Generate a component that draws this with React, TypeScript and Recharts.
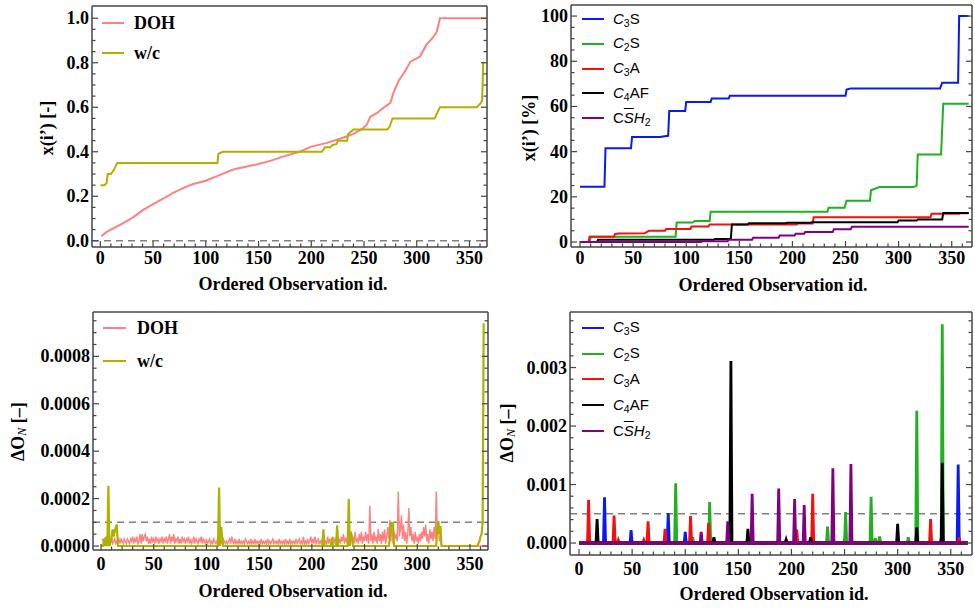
import React from "react";
import { LineChart, Line, XAxis, YAxis, ReferenceLine, Legend, Label } from "recharts";

const SERIF = "'Liberation Serif', 'Times New Roman', serif";
const SANS = "'Liberation Sans', Arial, sans-serif";
const FRAME = "#444";
const DASH = "#808080";

// x axis (ordered observation id)
const OBS_TICKS = [0, 10, 20, 30, 40, 50, 60, 70, 80, 90, 100, 110, 120, 130, 140, 150, 160, 170, 180, 190, 200, 210, 220, 230, 240, 250, 260, 270, 280, 290, 300, 310, 320, 330, 340, 350, 360];
const OBS_MAJOR = [0, 50, 100, 150, 200, 250, 300, 350];

// y ticks per panel
const FRAC_TICKS = [0, 0.05, 0.1, 0.15, 0.2, 0.25, 0.3, 0.35, 0.4, 0.45, 0.5, 0.55, 0.6, 0.65, 0.7, 0.75, 0.8, 0.85, 0.9, 0.95, 1.0];
const FRAC_MAJOR = [0, 0.2, 0.4, 0.6, 0.8, 1.0];
const PCT_TICKS = [0, 5, 10, 15, 20, 25, 30, 35, 40, 45, 50, 55, 60, 65, 70, 75, 80, 85, 90, 95, 100];
const PCT_MAJOR = [0, 20, 40, 60, 80, 100];
const DL_TICKS = [0, 0.00005, 0.0001, 0.00015, 0.0002, 0.00025, 0.0003, 0.00035, 0.0004, 0.00045, 0.0005, 0.00055, 0.0006, 0.00065, 0.0007, 0.00075, 0.0008, 0.00085, 0.0009, 0.00095];
const DL_MAJOR = [0, 0.0002, 0.0004, 0.0006, 0.0008];
const DR_TICKS = [0, 0.0002, 0.0004, 0.0006, 0.0008, 0.001, 0.0012, 0.0014, 0.0016, 0.0018, 0.002, 0.0022, 0.0024, 0.0026, 0.0028, 0.003, 0.0032, 0.0034, 0.0036, 0.0038];
const DR_MAJOR = [0, 0.001, 0.002, 0.003];

// top-left: cumulative x(i') for DOH and w/c
const DOH_CUM: [number, number][] = [
  [1, 0.02], [6, 0.04], [20, 0.075], [31, 0.105], [41, 0.14], [50, 0.165], [60, 0.19], [69, 0.215],
  [80, 0.24], [88, 0.255], [100, 0.27], [113, 0.295], [126, 0.32], [140, 0.335], [150, 0.345],
  [162, 0.36], [173, 0.378], [189, 0.4], [200, 0.423], [215, 0.44], [230, 0.463], [240, 0.48],
  [249, 0.505], [253, 0.525], [256, 0.558], [262, 0.573], [270, 0.603], [275, 0.62], [278, 0.666],
  [283, 0.72], [289, 0.763], [294, 0.805], [303, 0.827], [309, 0.88], [316, 0.917], [319, 0.94],
  [322, 1.0], [366, 1.0],
];
const WC_CUM: [number, number][] = [
  [0, 0.25], [4, 0.25], [6, 0.26], [7, 0.3], [10, 0.3], [13, 0.32], [16, 0.35], [111, 0.35],
  [112, 0.39], [116, 0.4], [210, 0.4], [213, 0.42], [218, 0.42], [220, 0.43], [224, 0.435],
  [225, 0.45], [234, 0.45], [235, 0.48], [240, 0.5], [272, 0.5], [274, 0.51], [277, 0.55],
  [317, 0.55], [319, 0.57], [322, 0.6], [357, 0.6], [360, 0.615], [362, 0.63], [363, 0.8], [364, 0.8],
];

// top-right: cumulative x(i') [%] per clinker phase
const C3S_CUM: [number, number][] = [
  [0, 24.5], [23, 24.5], [24, 41.5], [48, 41.5], [49, 46.5], [75, 46.5], [83, 47], [84, 58], [99, 58],
  [100, 62], [123, 62], [124, 63.5], [140, 63.5], [141, 64.7], [250, 64.7], [251, 67.5], [255, 68],
  [339, 68], [341, 70.5], [356, 70.5], [357, 100], [366, 100],
];
const C2S_CUM: [number, number][] = [
  [0, 0], [9, 0], [10, 2.3], [90, 2.3], [91, 8.6], [106, 8.6], [108, 9.3], [122, 9.3], [123, 13.4],
  [233, 13.4], [234, 15.2], [249, 15.2], [251, 18.3], [273, 18.3], [274, 22.9], [282, 24.3],
  [314, 24.3], [317, 25], [318, 38.7], [340, 38.7], [342, 61.2], [366, 61.2],
];
const C3A_CUM: [number, number][] = [
  [0, 0], [8, 0], [9, 2.3], [32, 2.3], [33, 3.6], [37, 3.8], [61, 3.9], [65, 5], [80, 5], [81, 5.8],
  [104, 5.8], [105, 6.9], [121, 6.9], [122, 7.8], [204, 7.8], [205, 8.2], [219, 8.2], [220, 11],
  [330, 11], [331, 12.5], [357, 12.5], [358, 12.7], [366, 12.7],
];
const C4AF_CUM: [number, number][] = [
  [0, 0], [16, 0], [17, 1], [126, 1], [127, 1.3], [142, 1.3], [143, 7.8], [158, 7.8], [159, 8.3],
  [194, 8.3], [195, 8.5], [217, 8.5], [218, 8.8], [299, 8.8], [300, 9.5], [317, 9.5], [318, 10],
  [341, 10], [342, 12.8], [366, 12.8],
];
const CSH2_CUM: [number, number][] = [
  [0, 0], [114, 0], [115, 0.4], [139, 0.4], [140, 1.0], [162, 1.0], [163, 1.9], [187, 1.9], [188, 2.9],
  [202, 2.9], [203, 3.7], [211, 3.7], [212, 4.4], [238, 4.4], [239, 5.7], [255, 5.7], [256, 6.8], [366, 6.8],
];

// bottom-left: ΔO_N for DOH, one value per observation 1..323 (units of 1e-5)
const DOH_DELTA_E5 = [
  3, 2, 3, 1, 3, 2, 3, 1, 2, 3, 1, 2, 3, 1, 2, 2, 3, 1, 3, 2, 1, 3, 2, 1, 3,
  2, 1, 3, 2, 4, 1, 3, 2, 4, 1, 2, 5, 1, 5, 2, 4, 5, 2, 4, 1, 3, 1, 4, 2, 3,
  1, 4, 2, 3, 1, 3, 2, 4, 1, 3, 2, 4, 1, 3, 5, 1, 4, 2, 5, 1, 3, 2, 4, 1, 3,
  1, 4, 2, 3, 1, 3, 2, 4, 1, 3, 1, 2, 4, 1, 3, 2, 1, 3, 2, 4, 1, 3, 2, 1, 3,
  1, 2, 3, 1, 2, 1, 3, 2, 1, 2, 4, 1, 3, 2, 1, 3, 2, 1, 2, 1, 2, 3, 1, 4, 2,
  1, 3, 1, 2, 1, 3, 1, 2, 1, 2, 1, 3, 2, 1, 2, 1, 3, 1, 2, 1, 3, 1, 2, 1, 2,
  1, 3, 1, 2, 1, 2, 1, 3, 1, 2, 1, 2, 3, 1, 2, 1, 2, 1, 3, 1, 2, 1, 2, 1, 3,
  1, 2, 1, 3, 1, 2, 1, 2, 1, 3, 1, 2, 3, 1, 2, 1, 4, 1, 2, 1, 3, 1, 2, 4, 1,
  3, 1, 4, 1, 2, 3, 1, 2, 1, 3, 5, 1, 2, 1, 4, 1, 3, 1, 2, 4, 1, 3, 2, 6, 1,
  3, 1, 4, 2, 5, 1, 3, 2, 4, 8, 1, 5, 2, 4, 1, 6, 2, 3, 1, 5, 2, 6, 1, 4, 2,
  6, 2, 5, 1, 17, 2, 5, 1, 6, 2, 4, 1, 7, 2, 5, 1, 6, 2, 7, 1, 4, 8, 3, 11, 2,
  10, 1, 6, 3, 5, 2, 23, 4, 7, 13, 3, 9, 2, 6, 1, 5, 16, 4, 8, 2, 5, 1, 6, 2, 4,
  1, 5, 2, 6, 3, 8, 4, 9, 2, 5, 1, 7, 3, 6, 2, 8, 3, 23, 5, 8, 2, 4, 0,
];
const WC_DELTA: [number, number][] = [
  [0, 0], [2, 0], [3, 3e-5], [4, 0], [5, 4e-5], [6, 0], [7, 25.4e-5], [8, 0], [10, 3e-5], [11, 7e-5],
  [12, 4e-5], [13, 6e-5], [14, 8e-5], [15, 9e-5], [16, 0], [111, 0], [112, 24.7e-5], [113, 0],
  [114, 8e-5], [115, 3e-5], [116, 0], [210, 0], [211, 7e-5], [212, 0], [218, 0], [219, 3.5e-5],
  [220, 0], [223, 0], [224, 8.7e-5], [225, 0], [234, 0], [235, 19.9e-5], [236, 0], [237, 6e-5],
  [238, 4e-5], [239, 0], [273, 0], [274, 3e-5], [275, 10.2e-5], [276, 7e-5], [277, 10e-5], [278, 0],
  [318, 0], [319, 9e-5], [320, 10.5e-5], [321, 5e-5], [322, 8.5e-5], [323, 0], [357, 0], [359, 2e-5],
  [360, 4e-5], [361, 5e-5], [362, 10e-5], [363, 94e-5],
];

// bottom-right: ΔO_N spikes per phase [observation, value]
const C3S_SPIKES: [number, number][] = [
  [24, 0.00078], [49, 0.00022], [84, 0.00051], [100, 0.00019], [123, 0.00005], [141, 0.00003],
  [250, 0.00005], [341, 0.00008], [357, 0.00134],
];
const C2S_SPIKES: [number, number][] = [
  [91, 0.00102], [107, 0.0001], [123, 0.0007], [234, 0.00028], [251, 0.00053], [275, 0.00079],
  [279, 0.00008], [283, 0.00011], [310, 0.0001], [318, 0.00226], [342, 0.00374],
];
const C3A_SPIKES: [number, number][] = [
  [9, 0.00074], [33, 0.00047], [37, 0.00005], [61, 0.00005], [65, 0.00037], [81, 0.00024],
  [105, 0.00046], [122, 0.00034], [205, 0.00023], [220, 0.00084], [331, 0.00041], [358, 0.0001],
];
const C4AF_SPIKES: [number, number][] = [
  [17, 0.00041], [127, 0.0001], [143, 0.00311], [159, 0.00024], [195, 0.00006], [218, 0.0001],
  [300, 0.00033], [318, 0.00027], [342, 0.00137],
];
const CSH2_SPIKES: [number, number][] = [
  [115, 0.00019], [140, 0.00037], [163, 0.00084], [188, 0.00093], [203, 0.00075], [212, 0.00065],
  [239, 0.00128], [256, 0.00135],
];

const LAST_OBS = 366;

const pts = (pairs: [number, number][]) => pairs.map(([x, y]) => ({ x, y }));

function spikeSeries(spikes: [number, number][]) {
  const out = [{ x: 0, y: 0 }];
  spikes.forEach(([x, h]) => out.push({ x: x - 1, y: 0 }, { x, y: h }, { x: x + 1, y: 0 }));
  out.push({ x: LAST_OBS, y: 0 });
  return out;
}

const dohDelta = DOH_DELTA_E5.map((v, i) => ({ x: i + 1, y: v * 1e-5 })).concat([{ x: LAST_OBS, y: 0 }]);

type Side = "bottom" | "left" | "top" | "right";

function frameTick(side: Side, majors: number[], fmt?: (v: number) => string, off = 17) {
  return (p: any) => {
    const v = Number(p.payload.value);
    const major = majors.some((m) => Math.abs(m - v) < 1e-9);
    const len = major ? 6 : 3.5;
    const x = p.x;
    const y = p.y;
    let x2 = x;
    let y2 = y;
    if (side === "bottom") y2 = y - len;
    if (side === "top") y2 = y + len;
    if (side === "left") x2 = x + len;
    if (side === "right") x2 = x - len;
    const txt = { fontFamily: SERIF, fontWeight: 700, fontSize: 18, fill: "#000" };
    return (
      <g>
        <line x1={x} y1={y} x2={x2} y2={y2} stroke={FRAME} strokeWidth={1.2} />
        {major && fmt && side === "bottom" && (
          <text x={x} y={y + off} textAnchor="middle" style={txt}>{fmt(v)}</text>
        )}
        {major && fmt && side === "left" && (
          <text x={x - 3} y={y + 6} textAnchor="end" style={txt}>{fmt(v)}</text>
        )}
      </g>
    );
  };
}

const titleStyle = { fontFamily: SERIF, fontWeight: 700, fontSize: 18, fill: "#000" };

function xTitle(cx: number, base: number) {
  return () => (
    <text x={cx} y={base} textAnchor="middle" style={titleStyle}>Ordered Observation id.</text>
  );
}

function yTitle(cx: number, cy: number, unit: string) {
  return () => (
    <text x={cx} y={cy} textAnchor="middle" dominantBaseline="central" transform={`rotate(-90 ${cx} ${cy})`} style={titleStyle}>
      x(i’) [{unit}]
    </text>
  );
}

function deltaTitle(cx: number, cy: number) {
  return () => (
    <text x={cx} y={cy} textAnchor="middle" dominantBaseline="central" transform={`rotate(-90 ${cx} ${cy})`} style={titleStyle}>
      ΔO
      <tspan dy={4} fontStyle="italic" fontWeight={400} fontSize={12}>N</tspan>
      <tspan dy={-4}> [–]</tspan>
    </text>
  );
}

type LegItem = { color: string; label: React.ReactNode };

function legendBox(items: LegItem[], rowH: number, lineW: number, gap: number, font: React.CSSProperties) {
  return () => (
    <div style={{ display: "flex", flexDirection: "column" }}>
      {items.map((it, i) => (
        <div key={i} style={{ height: rowH, display: "flex", alignItems: "center" }}>
          <svg width={lineW} height={4} style={{ display: "block" }}>
            <line x1={0} y1={2} x2={lineW} y2={2} stroke={it.color} strokeWidth={2} />
          </svg>
          <span style={{ marginLeft: gap, lineHeight: 1, whiteSpace: "nowrap", ...font }}>{it.label}</span>
        </div>
      ))}
    </div>
  );
}

const sub = (s: string) => <sub style={{ fontSize: "0.7em", verticalAlign: "-0.25em" }}>{s}</sub>;
const PHASE_LABELS: React.ReactNode[] = [
  <span><i>C</i>{sub("3")}S</span>,
  <span><i>C</i>{sub("2")}S</span>,
  <span><i>C</i>{sub("3")}A</span>,
  <span><i>C</i>{sub("4")}AF</span>,
  <span>C<i style={{ textDecoration: "overline" }}>S</i><i>H</i>{sub("2")}</span>,
];
const PHASE_COLORS = ["#0a18f5", "#20b020", "#f51010", "#000000", "#800080"];

const serifLegend = { fontFamily: SERIF, fontWeight: 700, fontSize: 18 };
const sansLegend = { fontFamily: SANS, fontSize: 15 };

const axisLine = { stroke: FRAME, strokeWidth: 1.5 };
const fmtObs = (v: number) => String(v);

function frameAxes(xDomain: number[], yDomain: number[], yTicks: number[], yMajor: number[], yFmt: (v: number) => string, dims: { l: number; r: number; t: number; b: number }, xOff: number, xLab: () => React.ReactNode, yLab: () => React.ReactNode) {
  return [
    <XAxis key="xb" xAxisId="b" type="number" dataKey="x" domain={xDomain} allowDataOverflow ticks={OBS_TICKS} interval={0} height={dims.b} tickSize={0} tickMargin={0} axisLine={axisLine} tickLine={false} tick={frameTick("bottom", OBS_MAJOR, fmtObs, xOff)}>
      <Label content={xLab} />
    </XAxis>,
    <XAxis key="xt" xAxisId="t" orientation="top" type="number" domain={xDomain} allowDataOverflow ticks={OBS_TICKS} interval={0} height={dims.t} tickSize={0} tickMargin={0} axisLine={axisLine} tickLine={false} tick={frameTick("top", OBS_MAJOR)} />,
    <YAxis key="yl" yAxisId="l" type="number" domain={yDomain} allowDataOverflow ticks={yTicks} interval={0} width={dims.l} tickSize={0} tickMargin={0} axisLine={axisLine} tickLine={false} tick={frameTick("left", yMajor, yFmt)}>
      <Label content={yLab} />
    </YAxis>,
    <YAxis key="yr" yAxisId="r" orientation="right" type="number" domain={yDomain} allowDataOverflow ticks={yTicks} interval={0} width={dims.r} tickSize={0} tickMargin={0} axisLine={axisLine} tickLine={false} tick={frameTick("right", yMajor)} />,
  ];
}

const lineProps = { xAxisId: "b", yAxisId: "l", dataKey: "y", type: "linear" as const, dot: false, activeDot: false, isAnimationActive: false };

function TopLeft() {
  return (
    <LineChart width={490} height={300} margin={{ top: 0, right: 0, bottom: 0, left: 0 }}>
      {frameAxes([-7.9, 366.6], [-0.028, 1.055], FRAC_TICKS, FRAC_MAJOR, (v) => v.toFixed(1), { l: 92, r: 3, t: 6, b: 53 }, 17, xTitle(293, 290), yTitle(46.5, 128, "-"))}
      <ReferenceLine xAxisId="b" yAxisId="l" y={0} stroke={DASH} strokeWidth={1.5} strokeDasharray="7 5" />
      <Line {...lineProps} data={pts(DOH_CUM)} stroke="#ff8080" strokeWidth={2} />
      <Line {...lineProps} data={pts(WC_CUM)} stroke="#b0b000" strokeWidth={2} />
      <Legend layout="vertical" align="center" verticalAlign="middle" wrapperStyle={{ left: 102, top: 8, width: 120, height: 60 }}
        content={legendBox([{ color: "#ff8080", label: "DOH" }, { color: "#b0b000", label: "w/c" }], 30, 22, 10, serifLegend)} />
    </LineChart>
  );
}

function TopRight() {
  const series = [C3S_CUM, C2S_CUM, C3A_CUM, C4AF_CUM, CSH2_CUM];
  return (
    <LineChart width={485} height={300} margin={{ top: 0, right: 0, bottom: 0, left: 0 }}>
      {frameAxes([-8.5, 369.1], [-2.2, 104.9], PCT_TICKS, PCT_MAJOR, (v) => String(v), { l: 81, r: 3, t: 5, b: 53 }, 17, xTitle(283, 291), yTitle(38.5, 128, "%"))}
      {series.map((s, i) => (
        <Line key={i} {...lineProps} data={pts(s)} stroke={PHASE_COLORS[i]} strokeWidth={2} />
      ))}
      <Legend layout="vertical" align="center" verticalAlign="middle" wrapperStyle={{ left: 92, top: 7, width: 140, height: 125 }}
        content={legendBox(PHASE_COLORS.map((c, i) => ({ color: c, label: PHASE_LABELS[i] })), 24.7, 22, 9, sansLegend)} />
    </LineChart>
  );
}

function BottomLeft() {
  return (
    <LineChart width={490} height={309} margin={{ top: 0, right: 0, bottom: 0, left: 0 }}>
      {frameAxes([-7.6, 367.1], [-0.0000168, 0.000987], DL_TICKS, DL_MAJOR, (v) => v.toFixed(4), { l: 93, r: 2, t: 12, b: 59 }, 19.5, xTitle(293, 296.7), deltaTitle(18.5, 131.7))}
      <ReferenceLine xAxisId="b" yAxisId="l" y={0.0001} stroke={DASH} strokeWidth={1.5} strokeDasharray="7 5" />
      <Line {...lineProps} data={dohDelta} stroke="#ff8080" strokeWidth={1.4} />
      <Line {...lineProps} data={pts(WC_DELTA)} stroke="#b0b000" strokeWidth={2.2} />
      <Legend layout="vertical" align="center" verticalAlign="middle" wrapperStyle={{ left: 103, top: 12, width: 120, height: 66 }}
        content={legendBox([{ color: "#ff8080", label: "DOH" }, { color: "#b0b000", label: "w/c" }], 32.7, 23, 11, serifLegend)} />
    </LineChart>
  );
}

function BottomRight() {
  const series = [C3S_SPIKES, C2S_SPIKES, C3A_SPIKES, C4AF_SPIKES, CSH2_SPIKES];
  return (
    <LineChart width={485} height={309} margin={{ top: 0, right: 0, bottom: 0, left: 0 }}>
      {frameAxes([-8.5, 370], [-0.000205, 0.00395], DR_TICKS, DR_MAJOR, (v) => v.toFixed(3), { l: 80, r: 3, t: 12, b: 54 }, 19.5, xTitle(284, 300), deltaTitle(16.5, 133))}
      <ReferenceLine xAxisId="b" yAxisId="l" y={0.0005} stroke={DASH} strokeWidth={1.5} strokeDasharray="7 5" />
      {series.map((s, i) => (
        <Line key={i} {...lineProps} data={spikeSeries(s)} stroke={PHASE_COLORS[i]} strokeWidth={2.8} />
      ))}
      <Legend layout="vertical" align="center" verticalAlign="middle" wrapperStyle={{ left: 92, top: 15, width: 140, height: 130 }}
        content={legendBox(PHASE_COLORS.map((c, i) => ({ color: c, label: PHASE_LABELS[i] })), 25.8, 22, 9, sansLegend)} />
    </LineChart>
  );
}

export default function App() {
  return (
    <div style={{ position: "absolute", left: 0, top: 0, width: 975, height: 609, background: "#fff" }}>
      <div style={{ position: "absolute", left: 0, top: 0 }}><TopLeft /></div>
      <div style={{ position: "absolute", left: 490, top: 0 }}><TopRight /></div>
      <div style={{ position: "absolute", left: 0, top: 300 }}><BottomLeft /></div>
      <div style={{ position: "absolute", left: 490, top: 300 }}><BottomRight /></div>
    </div>
  );
}
